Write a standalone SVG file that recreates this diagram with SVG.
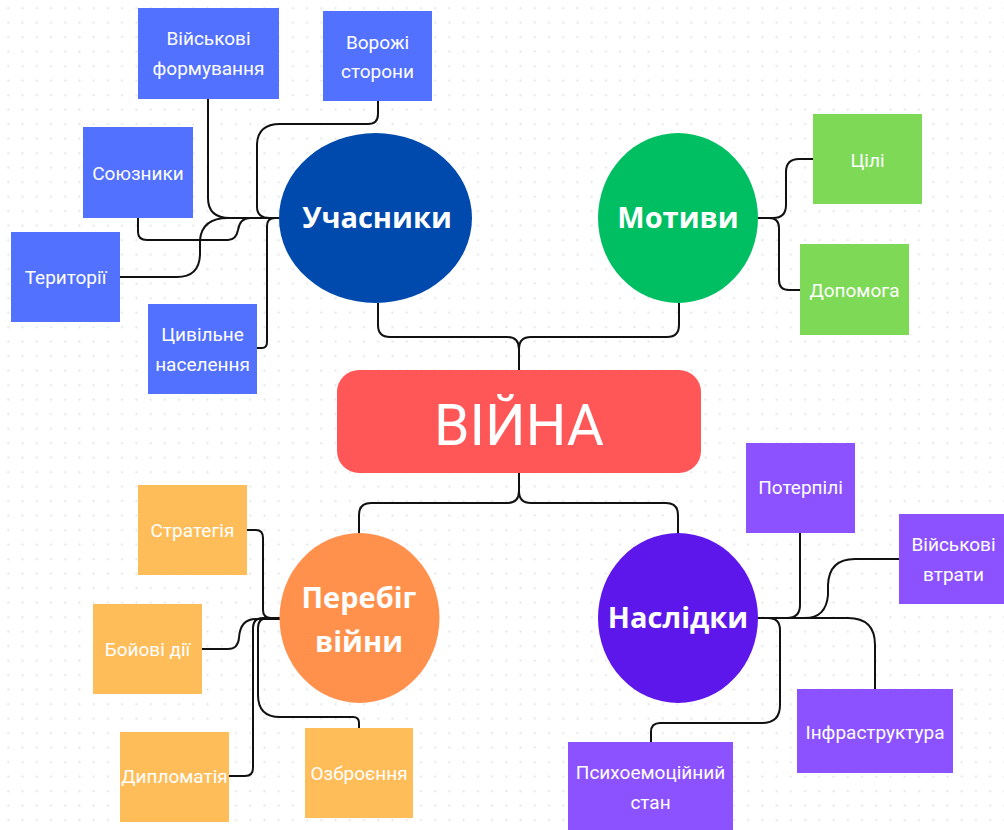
<svg xmlns="http://www.w3.org/2000/svg" width="1004" height="830" viewBox="0 0 1004 830">
<defs>
<pattern id="dots" x="1.2" y="1" width="14.23" height="14.5" patternUnits="userSpaceOnUse">
<circle cx="7.1" cy="7.2" r="1.1" fill="#e4e4e4"/>
</pattern>
<style>
.bx{font-family:Roboto,"Liberation Sans",sans-serif;font-size:19px;fill:#fff;text-anchor:middle}
.big{font-family:"Open Sans","Liberation Sans",sans-serif;font-weight:700;font-size:29px;fill:#fff;text-anchor:middle}
.blue{fill:#5271ff}.green{fill:#7ed957}.orange{fill:#ffbd59}.purple{fill:#8c52ff}
.ln{fill:none;stroke:#111;stroke-width:2}
</style>
</defs>
<rect width="1004" height="830" fill="#fff"/>
<rect width="1004" height="830" fill="url(#dots)"/>

<g id="connectors" class="ln">
<path d="M378,303 V325 Q378,337 390,337 H507 Q519,337 519,349 V370"/>
<path d="M679,303 V325 Q679,337 667,337 H531 Q519,337 519,349 V370"/>
<path d="M519,473 V491 Q519,503 507,503 H371 Q359,503 359,515 V533"/>
<path d="M519,473 V491 Q519,503 531,503 H666 Q678,503 678,515 V533"/>
<path d="M208,99 V198 Q208,218 230,218 H279"/>
<path d="M378,101 V114 Q378,124 368,124 H280 Q258,124 257,144 V207 Q257,218 270,218 H279"/>
<path d="M138,218 V232 Q138,240 147,240 H228 Q236,240 238,230 Q240,218 250,218 H279"/>
<path d="M120,277 H177 Q199,277 200,255 V240 Q202,218 228,218 H279"/>
<path d="M257,348 H262 Q267,348 267,342 V226 Q267,218 275,218 H279"/>
<path d="M813,159 H799 Q786,159 786,172 V205 Q786,218 773,218 H758"/>
<path d="M800,290 H789 Q779,290 779,280 V228 Q779,218 769,218 H758"/>
<path d="M247,530 H256 Q263,530 263,538 V610 Q263,618 271,618 H280"/>
<path d="M202,649 H228 Q238,649 239,638 Q240,619 256,619 H280"/>
<path d="M229,776 H245 Q253,776 253,768 V628 Q253,618 263,618 H280"/>
<path d="M359,728 V723 Q359,717 353,717 H280 Q258,717 258,695 V628 Q258,618 268,618 H280"/>
<path d="M800,533 V605 Q800,618 787,618 H758"/>
<path d="M899,559 H855 Q829,559 828,585 V595 Q826,618 805,618 H758"/>
<path d="M875,689 V645 Q875,618 848,618 H758"/>
<path d="M651,742 V732 Q651,723 660,723 H762 Q780,723 780,705 V630 Q780,618 768,618 H758"/>
</g>

<g id="war">
<rect x="337" y="370" width="364" height="103" rx="22" fill="#ff5757"/>
<text x="519" y="445" font-family="Roboto,'Liberation Sans',sans-serif" font-size="57" fill="#fff" text-anchor="middle">ВІЙНА</text>
</g>

<g id="participants">
<ellipse cx="375.5" cy="218" rx="96.5" ry="85" fill="#004aad"/>
<text class="big" x="377" y="228">Учасники</text>
</g>
<g id="motives">
<ellipse cx="678" cy="218" rx="80" ry="85" fill="#00bf63"/>
<text class="big" x="678" y="228">Мотиви</text>
</g>
<g id="course">
<ellipse cx="359.5" cy="618" rx="80" ry="85" fill="#ff914d"/>
<text class="big" x="359" y="608">Перебіг</text>
<text class="big" x="359" y="652">війни</text>
</g>
<g id="consequences">
<ellipse cx="678" cy="618" rx="80" ry="85" fill="#5e17eb"/>
<text class="big" x="678" y="628">Наслідки</text>
</g>

<g id="military-formations"><rect class="blue" x="138" y="8" width="141" height="91"/><text class="bx" x="208.5" y="45">Військові</text><text class="bx" x="208.5" y="75">формування</text></g>
<g id="enemy-sides"><rect class="blue" x="323" y="11" width="109" height="90"/><text class="bx" x="377.5" y="49">Ворожі</text><text class="bx" x="377.5" y="78">сторони</text></g>
<g id="allies"><rect class="blue" x="83" y="127" width="110" height="91"/><text class="bx" x="138" y="180">Союзники</text></g>
<g id="territories"><rect class="blue" x="11" y="232" width="109" height="90"/><text class="bx" x="65.5" y="284">Території</text></g>
<g id="civilians"><rect class="blue" x="148" y="304" width="109" height="90"/><text class="bx" x="202.5" y="341">Цивільне</text><text class="bx" x="202.5" y="371">населення</text></g>

<g id="goals"><rect class="green" x="813" y="114" width="109" height="90"/><text class="bx" x="867.5" y="166.5">Цілі</text></g>
<g id="help"><rect class="green" x="800" y="244" width="109" height="91"/><text class="bx" x="854.5" y="297">Допомога</text></g>

<g id="strategy"><rect class="orange" x="138" y="485" width="109" height="90"/><text class="bx" x="192.5" y="537">Стратегія</text></g>
<g id="combat"><rect class="orange" x="93" y="604" width="109" height="90"/><text class="bx" x="147.5" y="656">Бойові дії</text></g>
<g id="diplomacy"><rect class="orange" x="120" y="732" width="109" height="90"/><text class="bx" x="174.5" y="783">Дипломатія</text></g>
<g id="weapons"><rect class="orange" x="305" y="728" width="108" height="90"/><text class="bx" x="359" y="780">Озброєння</text></g>

<g id="victims"><rect class="purple" x="746" y="443" width="109" height="90"/><text class="bx" x="800.5" y="494">Потерпілі</text></g>
<g id="military-losses"><rect class="purple" x="899" y="514" width="109" height="90"/><text class="bx" x="953.5" y="550.5">Військові</text><text class="bx" x="953.5" y="580.5">втрати</text></g>
<g id="infrastructure"><rect class="purple" x="797" y="689" width="156" height="84"/><text class="bx" x="875" y="738.5">Інфраструктура</text></g>
<g id="psycho"><rect class="purple" x="568" y="742" width="165" height="90"/><text class="bx" x="650.5" y="779">Психоемоційний</text><text class="bx" x="650.5" y="809">стан</text></g>
</svg>
